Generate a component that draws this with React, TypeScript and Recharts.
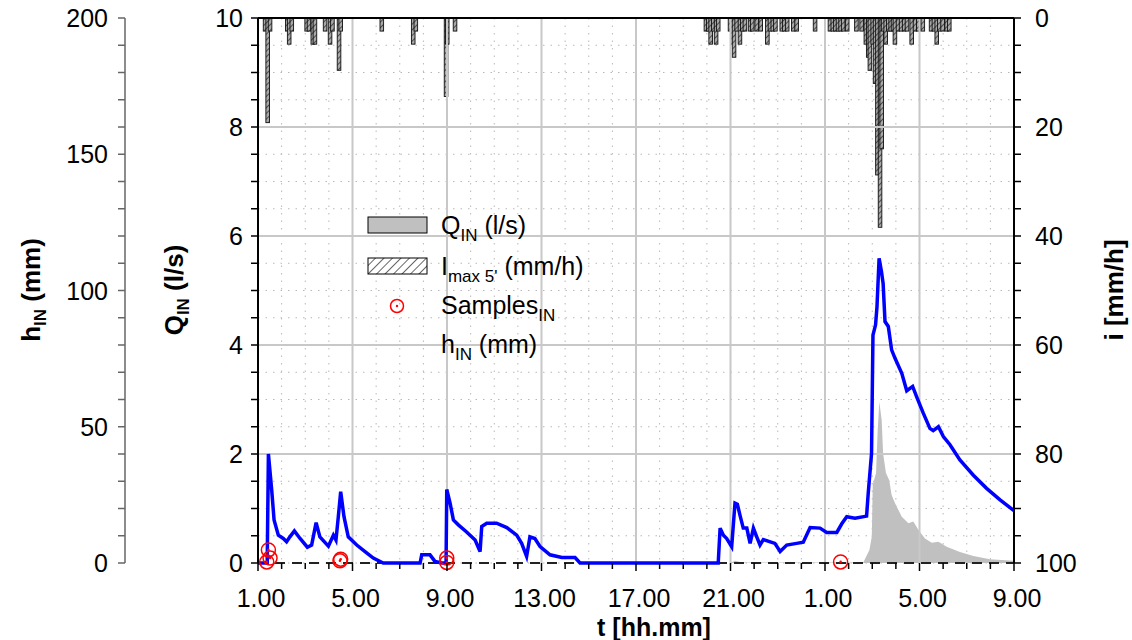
import React from 'react';
import {
  ComposedChart,
  XAxis,
  YAxis,
  CartesianGrid,
  Bar,
  Area,
  Line,
  Scatter,
  ReferenceLine,
  Label
} from 'recharts';

const FONT = '"Liberation Sans", Arial, Helvetica, sans-serif';

// time is hours after 1.00 of the first day (0..32)
const xMajorTicks = [0, 4, 8, 12, 16, 20, 24, 28, 32];
const xMajorLabels = ['1.00', '5.00', '9.00', '13.00', '17.00', '21.00', '1.00', '5.00', '9.00'];
const qMajorTicks = [0, 2, 4, 6, 8, 10];
const hMajorTicks = [0, 50, 100, 150, 200];
const iMajorTicks = [0, 20, 40, 60, 80, 100];

// rainfall intensity, max 5' (mm/h)
const rainTimes = [
  0.30, 0.41, 0.51, 1.24, 1.32, 1.43, 2.06, 2.16, 2.32, 2.41, 2.84, 3.05, 3.15, 3.43, 3.50,
  5.24, 6.57, 6.68, 7.96, 8.01, 8.34,
  18.96, 19.06, 19.16, 19.27, 19.39, 19.48, 19.98, 20.08, 20.15, 20.26, 20.40, 20.50, 20.61,
  20.83, 20.92, 21.11, 21.28, 21.56, 21.67, 21.79, 21.90, 22.17, 22.28, 22.40, 22.66, 22.80,
  23.58, 24.21, 24.33, 24.44, 24.55, 24.66, 24.77, 24.94, 25.33, 25.55, 25.73, 25.83, 25.90,
  26.02, 26.12, 26.22, 26.33, 26.40, 26.46, 26.57, 26.68, 26.78, 26.88, 26.96, 27.09, 27.22,
  27.35, 27.47, 27.67, 27.81, 27.95, 28.14, 28.49, 28.61, 28.73, 28.84, 28.98, 29.15, 29.26
];
const rainValues = [
  2.4, 19.2, 2.4, 2.4, 4.8, 2.4, 2.4, 2.4, 4.8, 4.8, 2.4, 4.8, 2.4, 9.6, 2.4,
  2.4, 4.8, 2.4, 14.4, 4.8, 2.4,
  2.4, 2.4, 4.8, 2.4, 4.8, 2.4, 2.4, 4.8, 7.2, 2.4, 4.8, 2.4, 2.4,
  2.4, 2.4, 2.4, 2.4, 4.8, 2.4, 2.4, 2.4, 2.4, 2.4, 2.4, 2.4, 2.4,
  2.4, 2.4, 2.4, 2.4, 2.4, 2.4, 2.4, 2.4, 2.4, 2.4, 4.8, 7.2, 9.6,
  4.8, 12.0, 28.8, 38.4, 24.0, 2.4, 4.8, 2.4, 2.4, 2.4, 4.8, 2.4, 2.4,
  2.4, 2.4, 4.8, 2.4, 2.4, 2.4, 2.4, 2.4, 4.8, 2.4, 2.4, 2.4, 2.4
];

// inflow Q_IN (l/s)
const flowTimes = [
  0, 19.98, 20.19, 20.5, 25.62, 25.88, 25.98, 26.02, 26.16, 26.23, 26.30, 26.40, 26.46, 26.58,
  26.72, 26.82, 26.96, 27.25, 27.53, 27.74, 27.95, 28.23, 28.52, 28.80, 29.15, 29.71, 30.28,
  30.98, 31.97, 32
];
const flowValues = [
  0, 0, 0.04, 0.01, 0.01, 0.24, 0.48, 1.43, 1.65, 2.44, 2.96, 2.62, 2.01, 1.65,
  1.52, 1.25, 1.10, 0.85, 0.73, 0.76, 0.61, 0.45, 0.37, 0.39, 0.30, 0.20, 0.13,
  0.07, 0.04, 0.04
];

// water level h_IN (mm)
const levelTimes = [
  0, 0.39, 0.44, 0.58, 0.68, 0.86, 1.07, 1.21, 1.35, 1.54, 1.78, 2.09, 2.27, 2.46, 2.62, 2.98,
  3.19, 3.30, 3.40, 3.50, 3.64, 3.82, 4.18, 4.53, 4.88, 5.30, 6.86, 6.93, 7.28, 7.49, 7.78,
  7.96, 7.99, 8.13, 8.27, 8.48, 8.83, 9.19, 9.40, 9.47, 9.68, 10.10, 10.53, 10.95, 11.16,
  11.37, 11.51, 11.72, 11.94, 12.36, 12.86, 13.42, 13.63, 19.48, 19.56, 19.70, 19.84, 20.05,
  20.19, 20.29, 20.40, 20.54, 20.69, 20.83, 20.97, 21.11, 21.25, 21.39, 21.88, 22.10, 22.38,
  22.80, 23.08, 23.37, 23.79, 24.07, 24.50, 24.71, 24.92, 25.27, 25.76, 25.83, 25.97, 26.03,
  26.14, 26.20, 26.29, 26.39, 26.46, 26.54, 26.68, 26.82, 26.96, 27.25, 27.46, 27.71, 27.88,
  28.16, 28.44, 28.58, 28.80, 29.01, 29.29, 29.71, 30.28, 30.84, 31.41, 31.97, 32
];
const levelValues = [
  0, 0, 40, 26.8, 15.8, 10.2, 9, 7.8, 9.6, 11.8, 9, 5.8, 6.6, 14.8, 9.6, 6.2,
  10.2, 8.4, 17, 26.2, 17, 9.6, 6.6, 4.2, 1.8, 0, 0, 3, 3, 0.6, 0,
  0, 27, 22, 15.8, 14, 11.4, 8.4, 4.2, 13.4, 14.6, 14.6, 13, 10.2, 7.2,
  2.4, 9.6, 9, 6, 3, 2, 2, 0, 0, 12.8, 10.2, 9, 6,
  22, 21.6, 17.6, 12.8, 12.8, 7.2, 12.8, 9.6, 6.6, 8.6, 7.2, 4.2, 6.6,
  7.2, 7.6, 13, 12.8, 11.2, 11.2, 14.4, 17, 16.4, 17.2, 25.6, 40.2, 83.6,
  87.4, 94, 111.8, 107, 102.6, 88.6, 86.8, 78.2, 75.2, 69.6, 63.2, 64.8, 61,
  55, 49.4, 48.6, 50, 46.4, 43.4, 37.8, 32.2, 27.4, 23.2, 19.4, 19.2
];

// samples taken at the inlet (plotted on Q axis)
const sampleTimes = [0.37, 0.44, 0.51, 3.47, 3.50, 7.99, 7.99, 24.66];
const sampleValues = [0.02, 0.24, 0.09, 0.04, 0.07, 0.01, 0.09, 0.02];

const rainData = rainTimes.map((t, k) => ({ t, i: rainValues[k] }));
const flowData = flowTimes.map((t, k) => ({ t, q: flowValues[k] }));
const levelData = levelTimes.map((t, k) => ({ t, h: levelValues[k] }));
const sampleData = sampleTimes.map((t, k) => ({ t, q: sampleValues[k] }));

const xTicks = Array.from({ length: 33 }, (_, k) => k);
const qTicks = Array.from({ length: 21 }, (_, k) => k * 0.5);
const hTicks = Array.from({ length: 21 }, (_, k) => k * 10);
const iTicks = Array.from({ length: 21 }, (_, k) => k * 5);

const TICK_FS = 25;

function makeYTick(major: number[], side: 'left' | 'right', color: string, gap: number) {
  return (props: any) => {
    const { x, y, payload } = props;
    const v = payload.value;
    const isMajor = major.includes(v);
    const dir = side === 'left' ? -1 : 1;
    return (
      <g>
        <line x1={x} x2={x + dir * 7} y1={y} y2={y} stroke={color} strokeWidth={1.5} />
        {isMajor && (
          <text
            x={x + dir * gap}
            y={y}
            dy="0.36em"
            textAnchor={side === 'left' ? 'end' : 'start'}
            fontSize={TICK_FS}
            fontFamily={FONT}
            fill="#000"
          >
            {v}
          </text>
        )}
      </g>
    );
  };
}

const XTick = (props: any) => {
  const { x, y, payload } = props;
  const idx = xMajorTicks.indexOf(payload.value);
  const isMajor = idx >= 0;
  return (
    <g>
      <line x1={x} x2={x} y1={y} y2={y + (isMajor ? 8 : 6)} stroke="#000" strokeWidth={1.5} />
      {isMajor && (
        <text x={x + 3} y={y + 44} textAnchor="middle" fontSize={TICK_FS} fontFamily={FONT} fill="#000">
          {xMajorLabels[idx]}
        </text>
      )}
    </g>
  );
};

function RotTitle({ x, cy, main, sub, rest }: { x: number; cy: number; main: string; sub: string; rest: string }) {
  return (
    <text
      x={x}
      y={cy}
      transform={`rotate(-90, ${x}, ${cy})`}
      textAnchor="middle"
      fontSize={26}
      fontWeight="bold"
      fontFamily={FONT}
      fill="#000"
    >
      {main}
      {sub && (
        <tspan dy={6} fontSize={17}>
          {sub}
        </tspan>
      )}
      <tspan dy={sub ? -6 : 0}>{rest}</tspan>
    </text>
  );
}

const BarShape = (props: any) => {
  const { x, y, width, height } = props;
  if (x == null || y == null) return null;
  const top = Math.min(y, y + height);
  const h = Math.abs(height);
  const w = 3.6;
  const cx = x + width / 2;
  return (
    <rect x={cx - w / 2} y={top} width={w} height={h} fill="url(#hatch)" stroke="#111" strokeWidth={0.9} />
  );
};

const SampleShape = (props: any) => {
  const { cx, cy } = props;
  return (
    <g>
      <circle cx={cx} cy={cy} r={7} fill="none" stroke="#ff0000" strokeWidth={1.5} />
      <circle cx={cx} cy={cy} r={1.3} fill="#ff0000" />
    </g>
  );
};

function LegendBox() {
  const txt = { fontSize: 25, fontFamily: FONT, fill: '#000' } as const;
  return (
    <svg width={260} height={160} style={{ position: 'absolute', left: 360, top: 205 }}>
      <defs>
        <pattern id="hatchL" width="6" height="6" patternUnits="userSpaceOnUse" patternTransform="rotate(45)">
          <rect width="6" height="6" fill="#fff" />
          <line x1="0" y1="0" x2="0" y2="6" stroke="#000" strokeWidth="1.2" />
        </pattern>
      </defs>
      <rect x={8} y={12} width={59} height={16} fill="#c0c0c0" stroke="#000" strokeWidth={1} />
      <text x={81} y={29} {...txt}>
        Q<tspan dy={7} fontSize={17}>IN</tspan>
        <tspan dy={-7}> (l/s)</tspan>
      </text>
      <rect x={8} y={53} width={59} height={16} fill="url(#hatchL)" stroke="#000" strokeWidth={1} />
      <text x={81} y={70} {...txt}>
        I<tspan dy={7} fontSize={17}>max 5'</tspan>
        <tspan dy={-7}> (mm/h)</tspan>
      </text>
      <circle cx={37} cy={101} r={6.5} fill="none" stroke="#ff0000" strokeWidth={1.5} />
      <circle cx={37} cy={101} r={1.2} fill="#ff0000" />
      <text x={81} y={109} {...txt}>
        Samples<tspan dy={7} fontSize={17}>IN</tspan>
      </text>
      <text x={81} y={148} {...txt}>
        h<tspan dy={7} fontSize={17}>IN</tspan>
        <tspan dy={-7}> (mm)</tspan>
      </text>
    </svg>
  );
}

export default function App() {
  return (
    <div style={{ position: 'absolute', left: 0, top: 0, width: 1132, height: 640, background: '#fff' }}>
      <ComposedChart
        width={1132}
        height={640}
        data={rainData}
        margin={{ top: 18, right: 0, bottom: 0, left: 0 }}
      >
        <defs>
          <pattern id="hatch" width="4" height="4" patternUnits="userSpaceOnUse" patternTransform="rotate(45)">
            <rect width="4" height="4" fill="#a8a8a8" />
            <line x1="0" y1="0" x2="0" y2="4" stroke="#222" strokeWidth="1.4" />
          </pattern>
        </defs>
        <CartesianGrid yAxisId="flow" stroke="#b8b8b8" strokeDasharray="1.5 6" />
        <XAxis
          dataKey="t"
          type="number"
          domain={[0, 32]}
          ticks={xTicks}
          interval={0}
          allowDataOverflow
          height={77}
          tickSize={0}
          tickMargin={0}
          tick={XTick}
          axisLine={false}
          tickLine={false}
        >
          <Label
            content={() => (
              <text x={654} y={636} textAnchor="middle" fontSize={25} fontWeight="bold" fontFamily={FONT}>
                t [hh.mm]
              </text>
            )}
          />
        </XAxis>
        <YAxis
          yAxisId="flow"
          orientation="left"
          type="number"
          domain={[0, 10]}
          ticks={qTicks}
          interval={0}
          width={133}
          tickSize={0}
          tickMargin={0}
          tick={makeYTick(qMajorTicks, 'left', '#000', 15)}
          tickLine={false}
          axisLine={{ stroke: '#000', strokeWidth: 2 }}
        >
          <Label content={() => <RotTitle x={183} cy={290} main="Q" sub="IN" rest=" (l/s)" />} />
        </YAxis>
        <YAxis
          yAxisId="level"
          orientation="left"
          type="number"
          domain={[0, 200]}
          ticks={hTicks}
          interval={0}
          width={125}
          tickSize={0}
          tickMargin={0}
          tick={makeYTick(hMajorTicks, 'left', '#666', 17)}
          tickLine={false}
          axisLine={{ stroke: '#666', strokeWidth: 1.5 }}
        >
          <Label content={() => <RotTitle x={40} cy={290} main="h" sub="IN" rest=" (mm)" />} />
        </YAxis>
        <YAxis
          yAxisId="rain"
          orientation="right"
          type="number"
          reversed
          domain={[0, 100]}
          ticks={iTicks}
          interval={0}
          width={118}
          tickSize={0}
          tickMargin={0}
          tick={makeYTick(iMajorTicks, 'right', '#000', 21)}
          tickLine={false}
          axisLine={{ stroke: '#000', strokeWidth: 2 }}
        >
          <Label content={() => <RotTitle x={1123} cy={290} main="i [mm/h]" sub="" rest="" />} />
        </YAxis>

        {qMajorTicks.slice(1, -1).map((v) => (
          <ReferenceLine key={'qy' + v} yAxisId="flow" y={v} stroke="#c8c8c8" strokeWidth={2} />
        ))}
        {xMajorTicks.slice(1, -1).map((v) => (
          <ReferenceLine key={'xv' + v} yAxisId="flow" x={v} stroke="#c8c8c8" strokeWidth={2} />
        ))}
        <ReferenceLine yAxisId="flow" y={10} stroke="#000" strokeWidth={2} />

        <Area
          data={flowData}
          yAxisId="flow"
          dataKey="q"
          type="linear"
          stroke="none"
          fill="#c0c0c0"
          fillOpacity={1}
          isAnimationActive={false}
        />
        <ReferenceLine yAxisId="flow" y={0} stroke="#222" strokeWidth={2} strokeDasharray="10 7" />
        <Bar yAxisId="rain" dataKey="i" shape={BarShape} isAnimationActive={false} />
        <Line
          data={levelData}
          yAxisId="level"
          dataKey="h"
          type="linear"
          stroke="#0000ff"
          strokeWidth={3.5}
          dot={false}
          isAnimationActive={false}
        />
        <Scatter data={sampleData} yAxisId="flow" dataKey="q" shape={SampleShape} isAnimationActive={false} />
      </ComposedChart>
      <LegendBox />
    </div>
  );
}
